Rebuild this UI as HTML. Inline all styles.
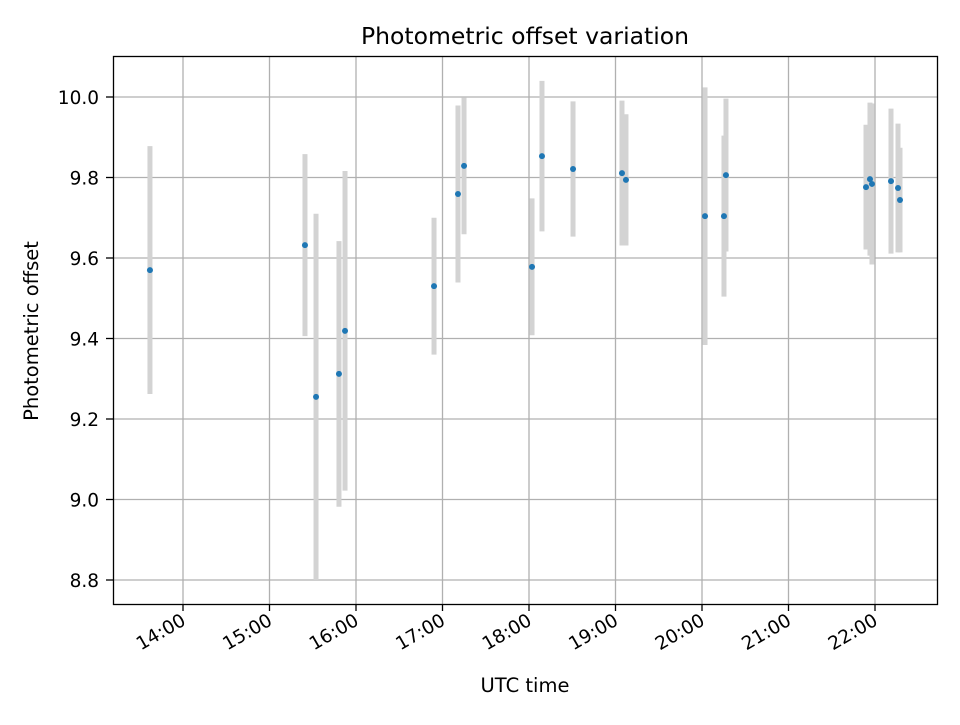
<!DOCTYPE html>
<html><head><meta charset="utf-8"><style>
body{margin:0;background:#fff;font-family:"Liberation Sans","DejaVu Sans",sans-serif;}
svg text{font-family:"DejaVu Sans","Liberation Sans",sans-serif;fill:#000;}
</style></head><body>
<svg id="chart" width="960" height="720" xmlns="http://www.w3.org/2000/svg">
<rect width="960" height="720" fill="#fff"/>
<g id="grid"></g>
<g id="errs"></g>
<g id="pts"></g>
<rect x="113.5" y="56.5" width="824" height="548" fill="none" stroke="#000" stroke-width="1.3"/>
<g id="axes"></g>
<text x="525" y="44" font-size="23.5" text-anchor="middle">Photometric offset variation</text>
<text x="525" y="692" font-size="19.5" text-anchor="middle">UTC time</text>
<text x="38" y="331" font-size="19.5" text-anchor="middle" transform="rotate(-90 38 331)">Photometric offset</text>
</svg>
<script>
const times=[13.618,15.410,15.538,15.803,15.873,16.902,17.179,17.249,18.035,18.150,18.509,19.075,19.121,20.035,20.254,20.277,21.896,21.942,21.965,22.185,22.266,22.289];
const values=[9.570,9.632,9.255,9.312,9.419,9.530,9.759,9.829,9.578,9.853,9.821,9.811,9.794,9.704,9.704,9.806,9.776,9.796,9.784,9.791,9.774,9.744];
const errors=[0.308,0.226,0.455,0.33,0.397,0.17,0.22,0.17,0.17,0.187,0.168,0.18,0.163,0.32,0.2,0.19,0.155,0.19,0.2,0.18,0.16,0.13];
const yTicks=[8.8,9.0,9.2,9.4,9.6,9.8,10.0];
const xTicks=[14,15,16,17,18,19,20,21,22];
const NS="http://www.w3.org/2000/svg";
function xs(h){return 183+(h-14)*86.5;}
function ys(v){return 97+(10-v)*402.5;}
function mk(tag,attrs,parent){const e=document.createElementNS(NS,tag);for(const k in attrs)e.setAttribute(k,attrs[k]);document.getElementById(parent).appendChild(e);return e;}
yTicks.forEach(v=>{const y=ys(v);
 const g=mk('line',{x1:113,x2:937,y1:y,y2:y,stroke:'#b0b0b0','stroke-width':1.3},'grid');
 
 
 const t=mk('line',{x1:106,x2:113,y1:y,y2:y,stroke:'#000','stroke-width':1.3},'axes');
 
 
 const l=mk('text',{x:99,y:y+7,'font-size':18.5,'text-anchor':'end'},'axes');
 l.textContent=v.toFixed(1);
 
 
});
xTicks.forEach(h=>{const x=xs(h);
 const g=mk('line',{x1:x,x2:x,y1:56,y2:604,stroke:'#b0b0b0','stroke-width':1.3},'grid');
 
 
 const t=mk('line',{x1:x,x2:x,y1:604,y2:611,stroke:'#000','stroke-width':1.3},'axes');
 
 
 const l=mk('text',{x:x+4,y:624,'font-size':18.5,'text-anchor':'end',transform:`rotate(-30 ${x+4} 624)`},'axes');
 l.textContent=h+':00';
 
 
});
times.forEach((h,i)=>{const x=xs(h);
 const e=mk('line',{x1:x,x2:x,y1:ys(values[i]+errors[i]),y2:ys(values[i]-errors[i]),stroke:'#d3d3d3','stroke-width':5},'errs');
 
 
 const c=mk('circle',{cx:x,cy:ys(values[i]),r:3,fill:'#1f77b4'},'pts');
 
 
});
</script>
</body></html>
